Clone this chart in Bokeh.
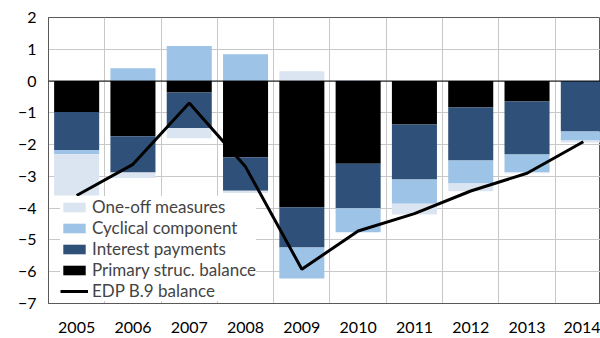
from bokeh.plotting import figure
from bokeh.models import FixedTicker, Span, Legend, LegendItem, ColumnDataSource
from bokeh.embed import file_html
from bokeh.resources import INLINE

years = ["2005", "2006", "2007", "2008", "2009", "2010", "2011", "2012", "2013", "2014"]
primary = [-0.97, -1.74, -0.36, -2.40, -3.97, -2.60, -1.37, -0.83, -0.64, 0.0]
interest = [-1.20, -1.14, -1.12, -1.05, -1.27, -1.40, -1.73, -1.67, -1.67, -1.59]
cyclical = [-0.13, 0.40, 1.10, 0.84, -0.97, -0.76, -0.76, -0.72, -0.56, -0.28]
oneoff = [-1.30, -0.17, -0.32, -0.07, 0.31, 0.03, -0.34, -0.25, -0.03, -0.06]
edp = [-3.6, -2.62, -0.69, -2.70, -5.92, -4.72, -4.17, -3.46, -2.90, -1.91]

FONT = "Lato"
colors = {"oneoff": "#dbe5f1", "cyclical": "#9dc3e6", "interest": "#2f5179", "primary": "#000000"}

x = list(range(len(years)))

# stacking: negatives downward in order primary, interest, cyclical, one-off; positives upward
series = [("primary", primary), ("interest", interest), ("cyclical", cyclical), ("oneoff", oneoff)]
pos_base = [0.0] * len(x)
neg_base = [0.0] * len(x)
stacks = {}
for name, vals in series:
    bots, tops = [], []
    for i, v in enumerate(vals):
        if v >= 0:
            bots.append(pos_base[i]); tops.append(pos_base[i] + v); pos_base[i] += v
        else:
            bots.append(neg_base[i]); tops.append(neg_base[i] + v); neg_base[i] += v
    stacks[name] = (bots, tops)

p = figure(width=600, height=338, output_backend="svg", toolbar_location=None,
           x_range=(-0.5, 9.305), y_range=(-7, 2),
           min_border_left=48, min_border_top=17, min_border_right=0, min_border_bottom=35)
p.background_fill_color = "white"
p.border_fill_color = "white"
p.outline_line_color = "#595959"
p.outline_line_width = 1

renderers = {}
for name in ["primary", "interest", "cyclical", "oneoff"]:
    bots, tops = stacks[name]
    src = ColumnDataSource(dict(x=x, bottom=bots, top=tops))
    renderers[name] = p.vbar(x="x", bottom="bottom", top="top", width=0.8, source=src,
                             fill_color=colors[name], line_color=None)

line_r = p.line(x, edp, line_color="black", line_width=3)

p.add_layout(Span(location=0, dimension="width", line_color="black", line_width=1))

p.xaxis.ticker = FixedTicker(ticks=x)
p.xaxis.major_label_overrides = {i: y for i, y in enumerate(years)}
p.yaxis.ticker = FixedTicker(ticks=list(range(-7, 3)))
p.xgrid.ticker = FixedTicker(ticks=[i - 0.5 for i in range(11)])
p.xgrid.grid_line_color = "#c8c8c8"
p.ygrid.grid_line_color = "#c8c8c8"
p.xgrid.grid_line_width = 1
p.ygrid.grid_line_width = 1

for ax in (p.xaxis, p.yaxis):
    ax.major_tick_line_color = None
    ax.minor_tick_line_color = None
    ax.axis_line_color = "#595959"
    ax.major_label_text_font = FONT
    ax.major_label_text_font_size = "16px"
    ax.major_label_text_color = "black"
p.xaxis.major_label_standoff = 18
p.yaxis.major_label_standoff = 12
p.xaxis.major_tick_out = 0
p.yaxis.major_tick_out = 0

legend = Legend(items=[
    LegendItem(label="One-off measures", renderers=[renderers["oneoff"]]),
    LegendItem(label="Cyclical component", renderers=[renderers["cyclical"]]),
    LegendItem(label="Interest payments", renderers=[renderers["interest"]]),
    LegendItem(label="Primary struc. balance", renderers=[renderers["primary"]]),
    LegendItem(label="EDP B.9 balance", renderers=[line_r]),
], location=(12, 2))
legend.label_text_font = FONT
legend.label_text_font_size = "17px"
legend.label_height = 20
legend.glyph_height = 12
legend.glyph_width = 28
legend.label_standoff = 4
legend.spacing = 0
legend.padding = 0
legend.margin = 0
legend.border_line_color = None
legend.background_fill_color = "white"
legend.background_fill_alpha = 1.0
p.add_layout(legend, "center")

open("out.html", "w").write(file_html(p, INLINE))
